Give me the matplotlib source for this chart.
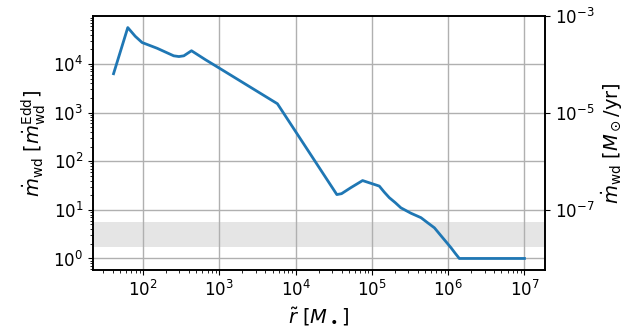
import numpy as np
import matplotlib
matplotlib.use('Agg')
import matplotlib.pyplot as plt

# curve
r_tilde = [41, 63, 79, 97, 153, 252, 295, 342, 431, 659, 1000, 5770,
           34700, 40000, 53000, 75500, 1.25e5, 1.45e5, 1.69e5, 2.02e5,
           2.4e5, 3.26e5, 4.4e5, 5.4e5, 6.6e5, 8.1e5, 9.5e5, 1.09e6,
           1.25e6, 1.4e6, 1e7]
mdot_wd = [6300, 5.6e4, 3.7e4, 2.76e4, 2.1e4, 1.47e4, 1.42e4, 1.47e4,
           1.87e4, 1.22e4, 8200, 1520,
           20.6, 21.5, 28.6, 40, 30.8, 23.2, 17.8, 14.1,
           11, 8.5, 6.9, 5.4, 4.27, 2.9, 2.15, 1.66,
           1.25, 1.0, 1.0]

band = (1.75, 5.5)          # shaded range in Eddington units
edd_to_msun_yr = 1e-8       # conversion for right axis

fig = plt.figure(figsize=(6.34, 3.34), dpi=100)
ax = fig.add_axes([0.1467, 0.1916, 0.7129, 0.7604])

ax.axhspan(band[0], band[1], color='#e5e5e5', lw=0)
ax.plot(r_tilde, mdot_wd, color='#1f77b4', lw=2)
ax.set_xscale('log')
ax.set_yscale('log')
ax.grid(True, which='major', color='#b0b0b0', lw=1)
ax.tick_params(labelsize=12)
ax.set_xlabel(r'$\tilde{r}\ [M_\bullet]$', fontsize=14)
ax.set_ylabel(r'$\dot{m}_{\rm wd}\ [\dot{m}_{\rm wd}^{\rm Edd}]$', fontsize=14)

ylo, yhi = ax.get_ylim()
ax2 = ax.twinx()
ax2.set_yscale('log')
ax2.set_ylim(ylo * edd_to_msun_yr, yhi * edd_to_msun_yr)
ax2.set_yticks([1e-7, 1e-5, 1e-3])
ax2.yaxis.set_minor_locator(matplotlib.ticker.NullLocator())
ax2.tick_params(labelsize=12)
ax2.set_ylabel(r'$\dot{m}_{\rm wd}\ [M_\odot/{\rm yr}]$', fontsize=14)

for a in (ax, ax2):
    for s in a.spines.values():
        s.set_linewidth(1.2)

fig.savefig('out.png', dpi=100)
